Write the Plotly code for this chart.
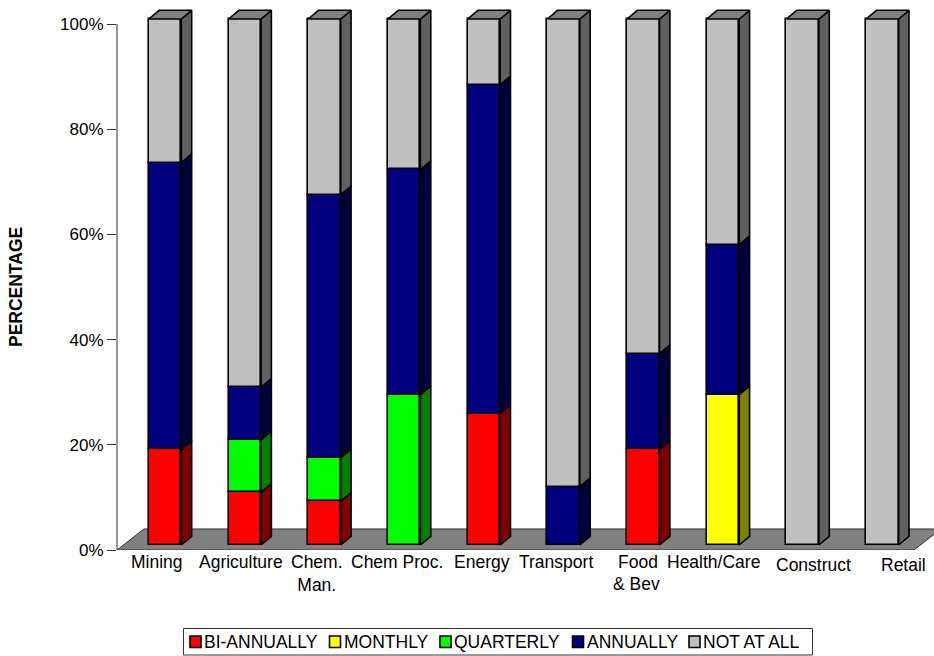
import plotly.graph_objects as go

categories = ["Mining", "Agriculture", "Chem.<br>Man.", "Chem Proc.", "Energy", "Transport",
              "Food", "Health/Care", "Construct", "Retail"]
bi_annually = [18.2, 10.0, 8.3, 0, 25.0, 0, 18.2, 0, 0, 0]
monthly = [0, 0, 0, 0, 0, 0, 0, 28.6, 0, 0]
quarterly = [0, 10.0, 8.3, 28.6, 0, 0, 0, 0, 0, 0]
annually = [54.5, 10.0, 50.0, 42.8, 62.5, 11.1, 18.2, 28.5, 0, 0]
not_at_all = [27.3, 70.0, 33.4, 28.6, 12.5, 88.9, 63.6, 42.9, 100.0, 100.0]
y_ticks = [0, 20, 40, 60, 80, 100]
y_tick_labels = ["0%", "20%", "40%", "60%", "80%", "100%"]

series = [
    ("BI-ANNUALLY", bi_annually, "#ff0000", "#800000"),
    ("MONTHLY", monthly, "#ffff00", "#808000"),
    ("QUARTERLY", quarterly, "#00ff00", "#008000"),
    ("ANNUALLY", annually, "#000080", "#000040"),
    ("NOT AT ALL", not_at_all, "#c0c0c0", "#606060"),
]

FONT = "Liberation Sans, Arial, sans-serif"
FS = 17.5
PITCH = 79.7
BAR_W = 0.408
X0 = 0.103
Y0 = 0.95
DX = 0.13
DY = 1.65
LW = 1.6
W, H = 934, 656
L, T, B = 117, 0, 106
PW = W - L
PH = H - T - B
UNIT = 5.26  # pixels per percentage point


def px(x):
    return (x - L) / PW


def py(y):
    return (H - B - y) / PH


fig = go.Figure()
n = len(categories)
idx = list(range(n))
shapes = []

# floor
FX, FY = 0.339, 4.0
shapes.append(dict(type="path", xref="x", yref="y", layer="below",
                   path=f"M -0.5 0 L 9.5 0 L {9.5 + FX} {FY} L {-0.5 + FX} {FY} Z",
                   fillcolor="#808080", line=dict(color="#333333", width=1)))
# value axis line, 0 to 100 only
shapes.append(dict(type="line", xref="paper", yref="y", x0=0, x1=0, y0=0, y1=100,
                   line=dict(color="#333333", width=1)))

cum = [0.0] * n
for name, vals, col, dark in series:
    xs, bases, hts = [], [], []
    sx, sy = [], []
    for i in idx:
        v = vals[i]
        if v <= 0:
            continue
        b = cum[i] + Y0
        xr = i + X0 + BAR_W / 2
        xs.append(i + X0)
        bases.append(b)
        hts.append(v)
        sx += [xr, xr + DX, xr + DX, xr, xr, None]
        sy += [b, b + DY, b + v + DY, b + v, b, None]
        cum[i] += v
    fig.add_trace(go.Scatter(x=sx, y=sy, mode="lines", fill="toself", fillcolor=dark,
                             line=dict(color="black", width=LW),
                             showlegend=False, hoverinfo="skip"))
    fig.add_trace(go.Bar(x=xs, y=hts, base=bases, name=name, width=BAR_W, showlegend=False,
                         marker=dict(color=col, line=dict(color="black", width=LW))))

tx, ty = [], []
for i in idx:
    xl = i + X0 - BAR_W / 2
    xr = i + X0 + BAR_W / 2
    top = cum[i] + Y0
    tx += [xl, xr, xr + DX, xl + DX, xl, None]
    ty += [top, top, top + DY, top + DY, top, None]
fig.add_trace(go.Scatter(x=tx, y=ty, mode="lines", fill="toself", fillcolor="#808080",
                         line=dict(color="black", width=LW),
                         showlegend=False, hoverinfo="skip"))

label_dx = [0, 4, 1, 1, 6, 1, 2.5, -1, 19, 29]
label_dy = [0, 0, 0, 0, 0, 0, 0, 0, -3, -3]
annots = []
for i, lab in enumerate(categories):
    annots.append(dict(x=i, y=0, xref="x", yref="y", text=lab, showarrow=False,
                       xanchor="center", yanchor="top", xshift=label_dx[i],
                       yshift=0 + label_dy[i], font=dict(family=FONT, size=FS, color="black")))
annots.append(dict(x=6, y=0, xref="x", yref="y", text="&amp; Bev", showarrow=False,
                   xanchor="center", yanchor="top", xshift=1.5, yshift=-22,
                   font=dict(family=FONT, size=FS, color="black")))
annots.append(dict(xref="paper", yref="paper", x=px(16), y=py(287),
                   text="<b>PERCENTAGE</b>", textangle=-90, showarrow=False,
                   xanchor="center", yanchor="middle", font=dict(family=FONT, size=FS, color="black")))

# legend
shapes.append(dict(type="rect", xref="paper", yref="paper", x0=px(183.5), x1=px(812.5), y0=py(655), y1=py(628.5),
                   fillcolor="white", line=dict(color="#333333", width=1)))
leg_x = [190, 329.5, 440, 572.5, 689]
for (name, vals, col, dark), lx in zip(series, leg_x):
    shapes.append(dict(type="rect", xref="paper", yref="paper", x0=px(lx), x1=px(lx + 11),
                       y0=py(647.5), y1=py(636), fillcolor=col, line=dict(color="black", width=LW)))
    annots.append(dict(xref="paper", yref="paper", x=px(lx + 14), y=py(642), text=name, showarrow=False,
                       xanchor="left", yanchor="middle", xshift=-2, font=dict(family=FONT, size=FS, color="black")))

fig.update_layout(
    width=W, height=H, autosize=False,
    margin=dict(l=L, r=0, t=T, b=B, autoexpand=False),
    paper_bgcolor="white", plot_bgcolor="white",
    barmode="overlay", bargap=0, showlegend=False,
    font=dict(family=FONT, size=FS, color="black"),
    xaxis=dict(range=[-0.5, -0.5 + PW / PITCH], showticklabels=False, ticks="", showgrid=False,
               zeroline=False, showline=False),
    yaxis=dict(range=[0, PH / UNIT], tickmode="array", tickvals=y_ticks, ticktext=y_tick_labels, ticks="outside",
               ticklen=9, tickcolor="#333333", showgrid=False, zeroline=False, showline=False,
               tickfont=dict(family=FONT, size=17, color="black")),
    shapes=shapes,
    annotations=annots,
)
fig.write_html("out.html", config={"displayModeBar": False},
               post_script="document.body.style.margin='0';document.body.style.overflow='hidden';")
